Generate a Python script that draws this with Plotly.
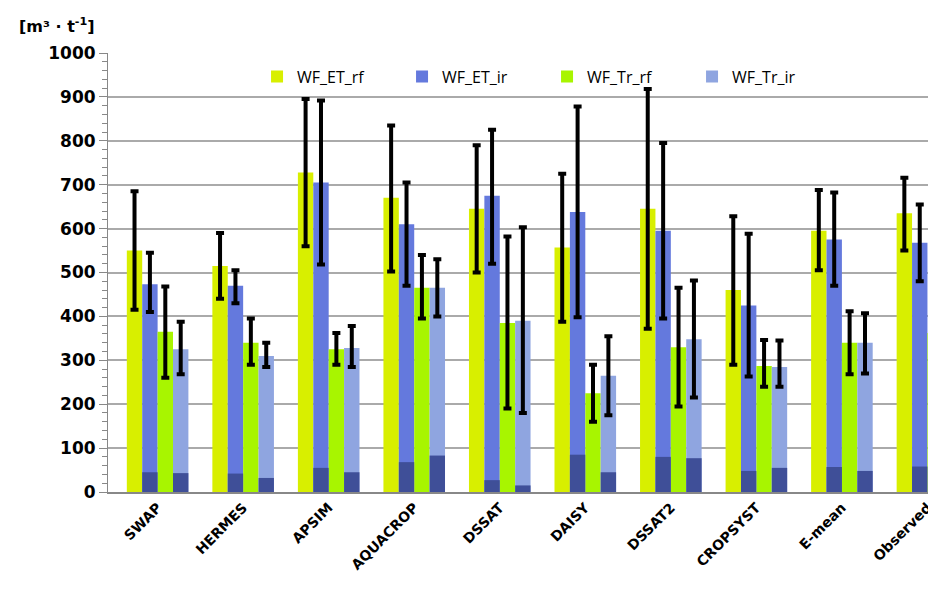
import plotly.graph_objects as go

categories = ["SWAP","HERMES","APSIM","AQUACROP","DSSAT","DAISY","DSSAT2","CROPSYST","E-mean","Observed"]
et_rf = [550,515,728,670,645,557,645,460,595,635]
et_rf_lo = [415,440,560,502,500,388,372,290,505,550]
et_rf_hi = [685,590,895,835,790,725,918,628,688,716]
et_ir = [473,470,705,610,675,638,595,425,575,568]
et_ir_lo = [410,430,518,470,520,398,395,263,470,480]
et_ir_hi = [545,505,892,705,825,878,795,588,682,655]
tr_rf = [365,340,325,465,385,225,330,287,340,362]
tr_rf_lo = [260,290,290,395,190,160,195,240,268,262]
tr_rf_hi = [468,395,362,540,582,290,465,346,412,460]
tr_ir = [325,310,328,465,390,265,348,285,340,335]
tr_ir_lo = [268,285,285,400,180,175,215,240,270,248]
tr_ir_hi = [388,340,378,530,603,355,482,345,407,422]
dark_et_ir = [45,42,55,68,27,85,80,48,57,58]
dark_tr_ir = [43,32,45,83,15,45,77,55,48,48]

idx = list(range(len(categories)))
W = 0.18
fig = go.Figure()
def add(name, vals, lo, hi, color, k):
    fig.add_trace(go.Bar(
        x=idx, y=vals, width=W, offset=-2*W + k*W, name=name, marker_color=color,
        marker_line_width=0,
        error_y=dict(type="data", symmetric=False,
                     array=[h-v for h, v in zip(hi, vals)],
                     arrayminus=[v-l for l, v in zip(lo, vals)],
                     color="black", thickness=4, width=4)))
add("WF_ET_rf", et_rf, et_rf_lo, et_rf_hi, "#d8ef00", 0)
add("WF_ET_ir", et_ir, et_ir_lo, et_ir_hi, "#6479dd", 1)
add("WF_Tr_rf", tr_rf, tr_rf_lo, tr_rf_hi, "#a8f500", 2)
add("WF_Tr_ir", tr_ir, tr_ir_lo, tr_ir_hi, "#8fa5e0", 3)
for k, d in ((1, dark_et_ir), (3, dark_tr_ir)):
    fig.add_trace(go.Bar(x=idx, y=d, width=W, offset=-2*W + k*W, marker_color="#3f4f98",
                         marker_line_width=0, showlegend=False, hoverinfo="skip"))

fig.update_layout(
    width=928, height=594, barmode="overlay", plot_bgcolor="white", paper_bgcolor="white",
    margin=dict(l=100, r=0, t=45, b=110),
    font=dict(family="DejaVu Sans", color="black"),
    legend=dict(orientation="h", x=0.18, y=0.985, xanchor="left", yanchor="top",
                font=dict(size=16, family="Open Sans"), bgcolor="rgba(0,0,0,0)",
                itemwidth=30, entrywidth=100, entrywidthmode="pixels"),
    xaxis=dict(range=[-0.58, 9.1], tickmode="array", tickvals=idx,
               ticktext=["<b>%s</b>" % c for c in categories],
               tickangle=-45, tickfont=dict(size=14, family="DejaVu Sans"),
               showline=True, linecolor="#888", linewidth=2, showgrid=False),
    yaxis=dict(range=[0, 1000], dtick=100, showgrid=True, gridcolor="#aaa", gridwidth=1.5,
               tickprefix="<b>", ticksuffix="</b>",
               tickfont=dict(size=17, family="DejaVu Sans"), showline=True, linecolor="#888",
               ticks="outside", ticklen=8, tickcolor="#888",
               minor=dict(dtick=20, ticks="outside", ticklen=5, tickcolor="#888", showgrid=False)),
    annotations=[dict(text="<b>[m³ · t<sup>-1</sup>]</b>", xref="paper", yref="paper",
                      x=-0.11, y=1.035, xanchor="left", yanchor="bottom", showarrow=False,
                      font=dict(size=16))]
)
fig.write_html("out.html")
